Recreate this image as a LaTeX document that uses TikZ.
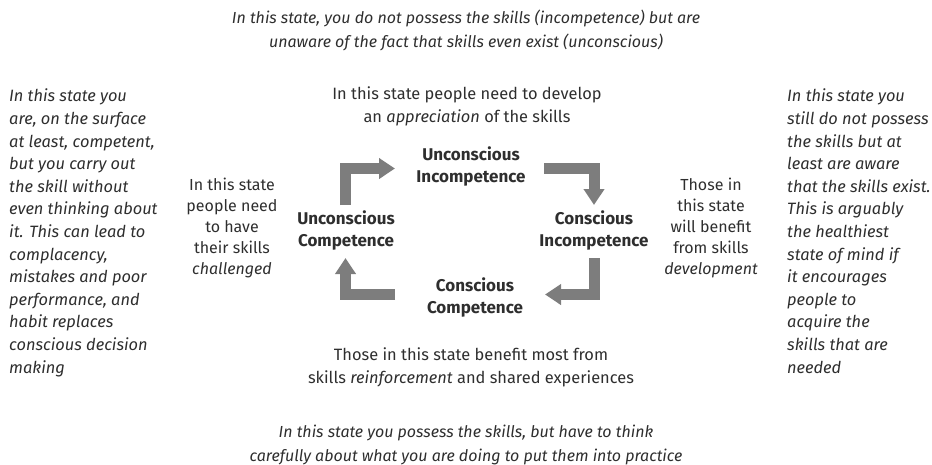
\documentclass[tikz,border=0pt]{standalone}
\usepackage{fontspec}
\setmainfont{Fira Sans}
\usetikzlibrary{arrows.meta}
\definecolor{txt}{HTML}{2E2E2E}
\definecolor{arr}{HTML}{7D7D7D}
\begin{document}
\begin{tikzpicture}[x=1pt,y=-1pt,
 lbl/.style={text=txt, font=\fontsize{16.4}{23}\selectfont, align=center, inner sep=0pt},
 mid/.style={text=txt, font=\fontsize{16}{21}\selectfont, align=center, inner sep=0pt},
 note/.style={text=txt, font=\fontsize{16}{24}\selectfont\itshape, align=center, inner sep=0pt},
 side/.style={text=txt, font=\fontsize{16.4}{22.6}\selectfont\itshape, align=left, inner sep=0pt, anchor=north west},
 state/.style={text=txt, font=\fontsize{17}{22}\selectfont\bfseries, align=center, inner sep=0pt},
 flow/.style={draw=arr, line width=11pt, line join=miter, -{Triangle[width=20pt,length=16pt]}}]
\useasboundingbox (0,0) rectangle (932,464);

\node[note] (topnote) at (466,30) {In this state, you do not possess the skills (incompetence) but are\\unaware of the fact that skills even exist (unconscious)};
\node[note] (botnote) at (466,445) {In this state you possess the skills, but have to think\\carefully about what you are doing to put them into practice};

\node[lbl] (toptext) at (467,106) {In this state people need to develop\\an \textit{appreciation} of the skills};
\node[lbl] (bottext) at (471,367) {Those in this state benefit most from\\skills \textit{reinforcement} and shared experiences};

\node[mid] (lefttext) at (232,228) {In this state\\people need\\to have\\their skills\\\textit{challenged}};
\node[mid] (righttext) at (711,228) {Those in\\this state\\will benefit\\from skills\\\textit{development}};

\node[side] (leftcol) at (9,89) {In this state you\\are, on the surface\\at least, competent,\\but you carry out\\the skill without\\even thinking about\\it. This can lead to\\complacency,\\mistakes and poor\\performance, and\\habit replaces\\conscious decision\\making};
\node[side] (rightcol) at (787,89) {In this state you\\still do not possess\\the skills but at\\least are aware\\that the skills exist.\\This is arguably\\the healthiest\\state of mind if\\it encourages\\people to\\acquire the\\skills that are\\needed};

\node[state] (ui) at (471,166) {Unconscious\\Incompetence};
\node[state] (ci) at (594,230) {Conscious\\Incompetence};
\node[state] (uc) at (346,230) {Unconscious\\Competence};
\node[state] (cc) at (475,297) {Conscious\\Competence};

\coordinate (a1s) at (345.5,205); \coordinate (a1c) at (345.5,168.5); \coordinate (a1e) at (395,168.5);
\coordinate (a2s) at (544,168.5); \coordinate (a2c) at (594,168.5); \coordinate (a2e) at (594,205);
\coordinate (a3s) at (594,258); \coordinate (a3c) at (594,294.5); \coordinate (a3e) at (545,294.5);
\coordinate (a4s) at (395,294.5); \coordinate (a4c) at (345.5,294.5); \coordinate (a4e) at (345.5,258);

\draw[flow] (a1s) -- (a1c) -- (a1e);
\draw[flow] (a2s) -- (a2c) -- (a2e);
\draw[flow] (a3s) -- (a3c) -- (a3e);
\draw[flow] (a4s) -- (a4c) -- (a4e);
\end{tikzpicture}
\end{document}
